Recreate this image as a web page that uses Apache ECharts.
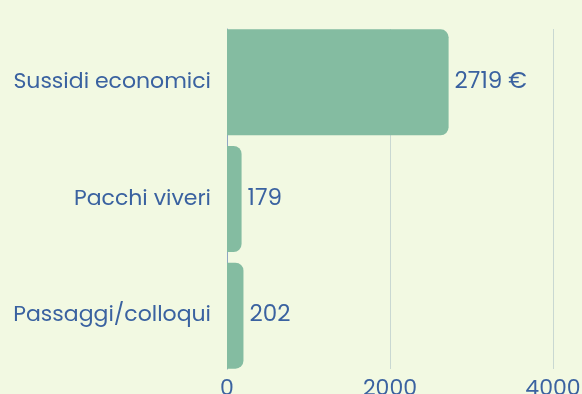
<!DOCTYPE html>
<html>
<head>
<meta charset="utf-8">
<script src="https://cdn.jsdelivr.net/npm/echarts@6/dist/echarts.min.js"></script>
<style>
  html, body { margin: 0; padding: 0; background: #f2f9e2; }
  #chart { width: 582px; height: 394px; }
</style>
</head>
<body>
<div id="chart"></div>
<script>
// Categories, listed top to bottom
const categories = ['Sussidi economici', 'Pacchi viveri', 'Passaggi/colloqui'];
// Values for each category
const values = [2719, 179, 202];
// Suffix shown after each value label
const valueSuffix = [' €', '', ''];
// Value axis ticks
const axisMin = 0;
const axisMax = 4000;
const axisStep = 2000;

const textColor = '#3a62a0';
const fontFamily = 'Poppins, "DejaVu Sans", sans-serif';

const chart = echarts.init(document.getElementById('chart'));
chart.setOption({
  backgroundColor: '#f2f9e2',
  animation: false,
  // grid 0 holds the bars and labels; grid 1 carries the vertical gridlines and the baseline
  grid: [
    { left: 227, right: 29, top: 24, bottom: 20, containLabel: false, outerBoundsMode: 'none' },
    { left: 227, right: 29, top: 29, bottom: 25, containLabel: false, outerBoundsMode: 'none' }
  ],
  xAxis: [{
    type: 'value',
    gridIndex: 0,
    min: axisMin,
    max: axisMax,
    interval: axisStep,
    axisLine: { show: false },
    axisTick: { show: false },
    splitLine: { show: false },
    axisLabel: {
      color: textColor, fontSize: 22, fontFamily: fontFamily, margin: 4,
      formatter: v => String(v)
    }
  }, {
    type: 'value',
    gridIndex: 1,
    min: axisMin,
    max: axisMax,
    interval: axisStep,
    axisLine: { show: false },
    axisTick: { show: false },
    axisLabel: { show: false },
    splitLine: { lineStyle: { color: '#c9d8d2', width: 1 } }
  }],
  yAxis: [{
    type: 'category',
    gridIndex: 0,
    inverse: true,
    data: categories,
    axisLine: { show: false },
    axisTick: { show: false },
    axisLabel: { color: textColor, fontSize: 22, fontFamily: fontFamily, margin: 16 }
  }, {
    type: 'value',
    gridIndex: 1,
    axisLine: { show: true, lineStyle: { color: '#8fa6c4', width: 1 } },
    axisTick: { show: false },
    axisLabel: { show: false },
    splitLine: { show: false }
  }],
  series: [{
    type: 'bar',
    xAxisIndex: 0,
    yAxisIndex: 0,
    data: values,
    barCategoryGap: '9.1%',
    z: 3,
    itemStyle: { color: '#84bca1', borderRadius: [0, 8, 8, 0] },
    label: {
      show: true,
      position: 'right',
      distance: 6,
      color: textColor,
      fontSize: 23,
      fontFamily: fontFamily,
      formatter: p => p.value + valueSuffix[p.dataIndex]
    }
  }]
});
</script>
</body>
</html>
